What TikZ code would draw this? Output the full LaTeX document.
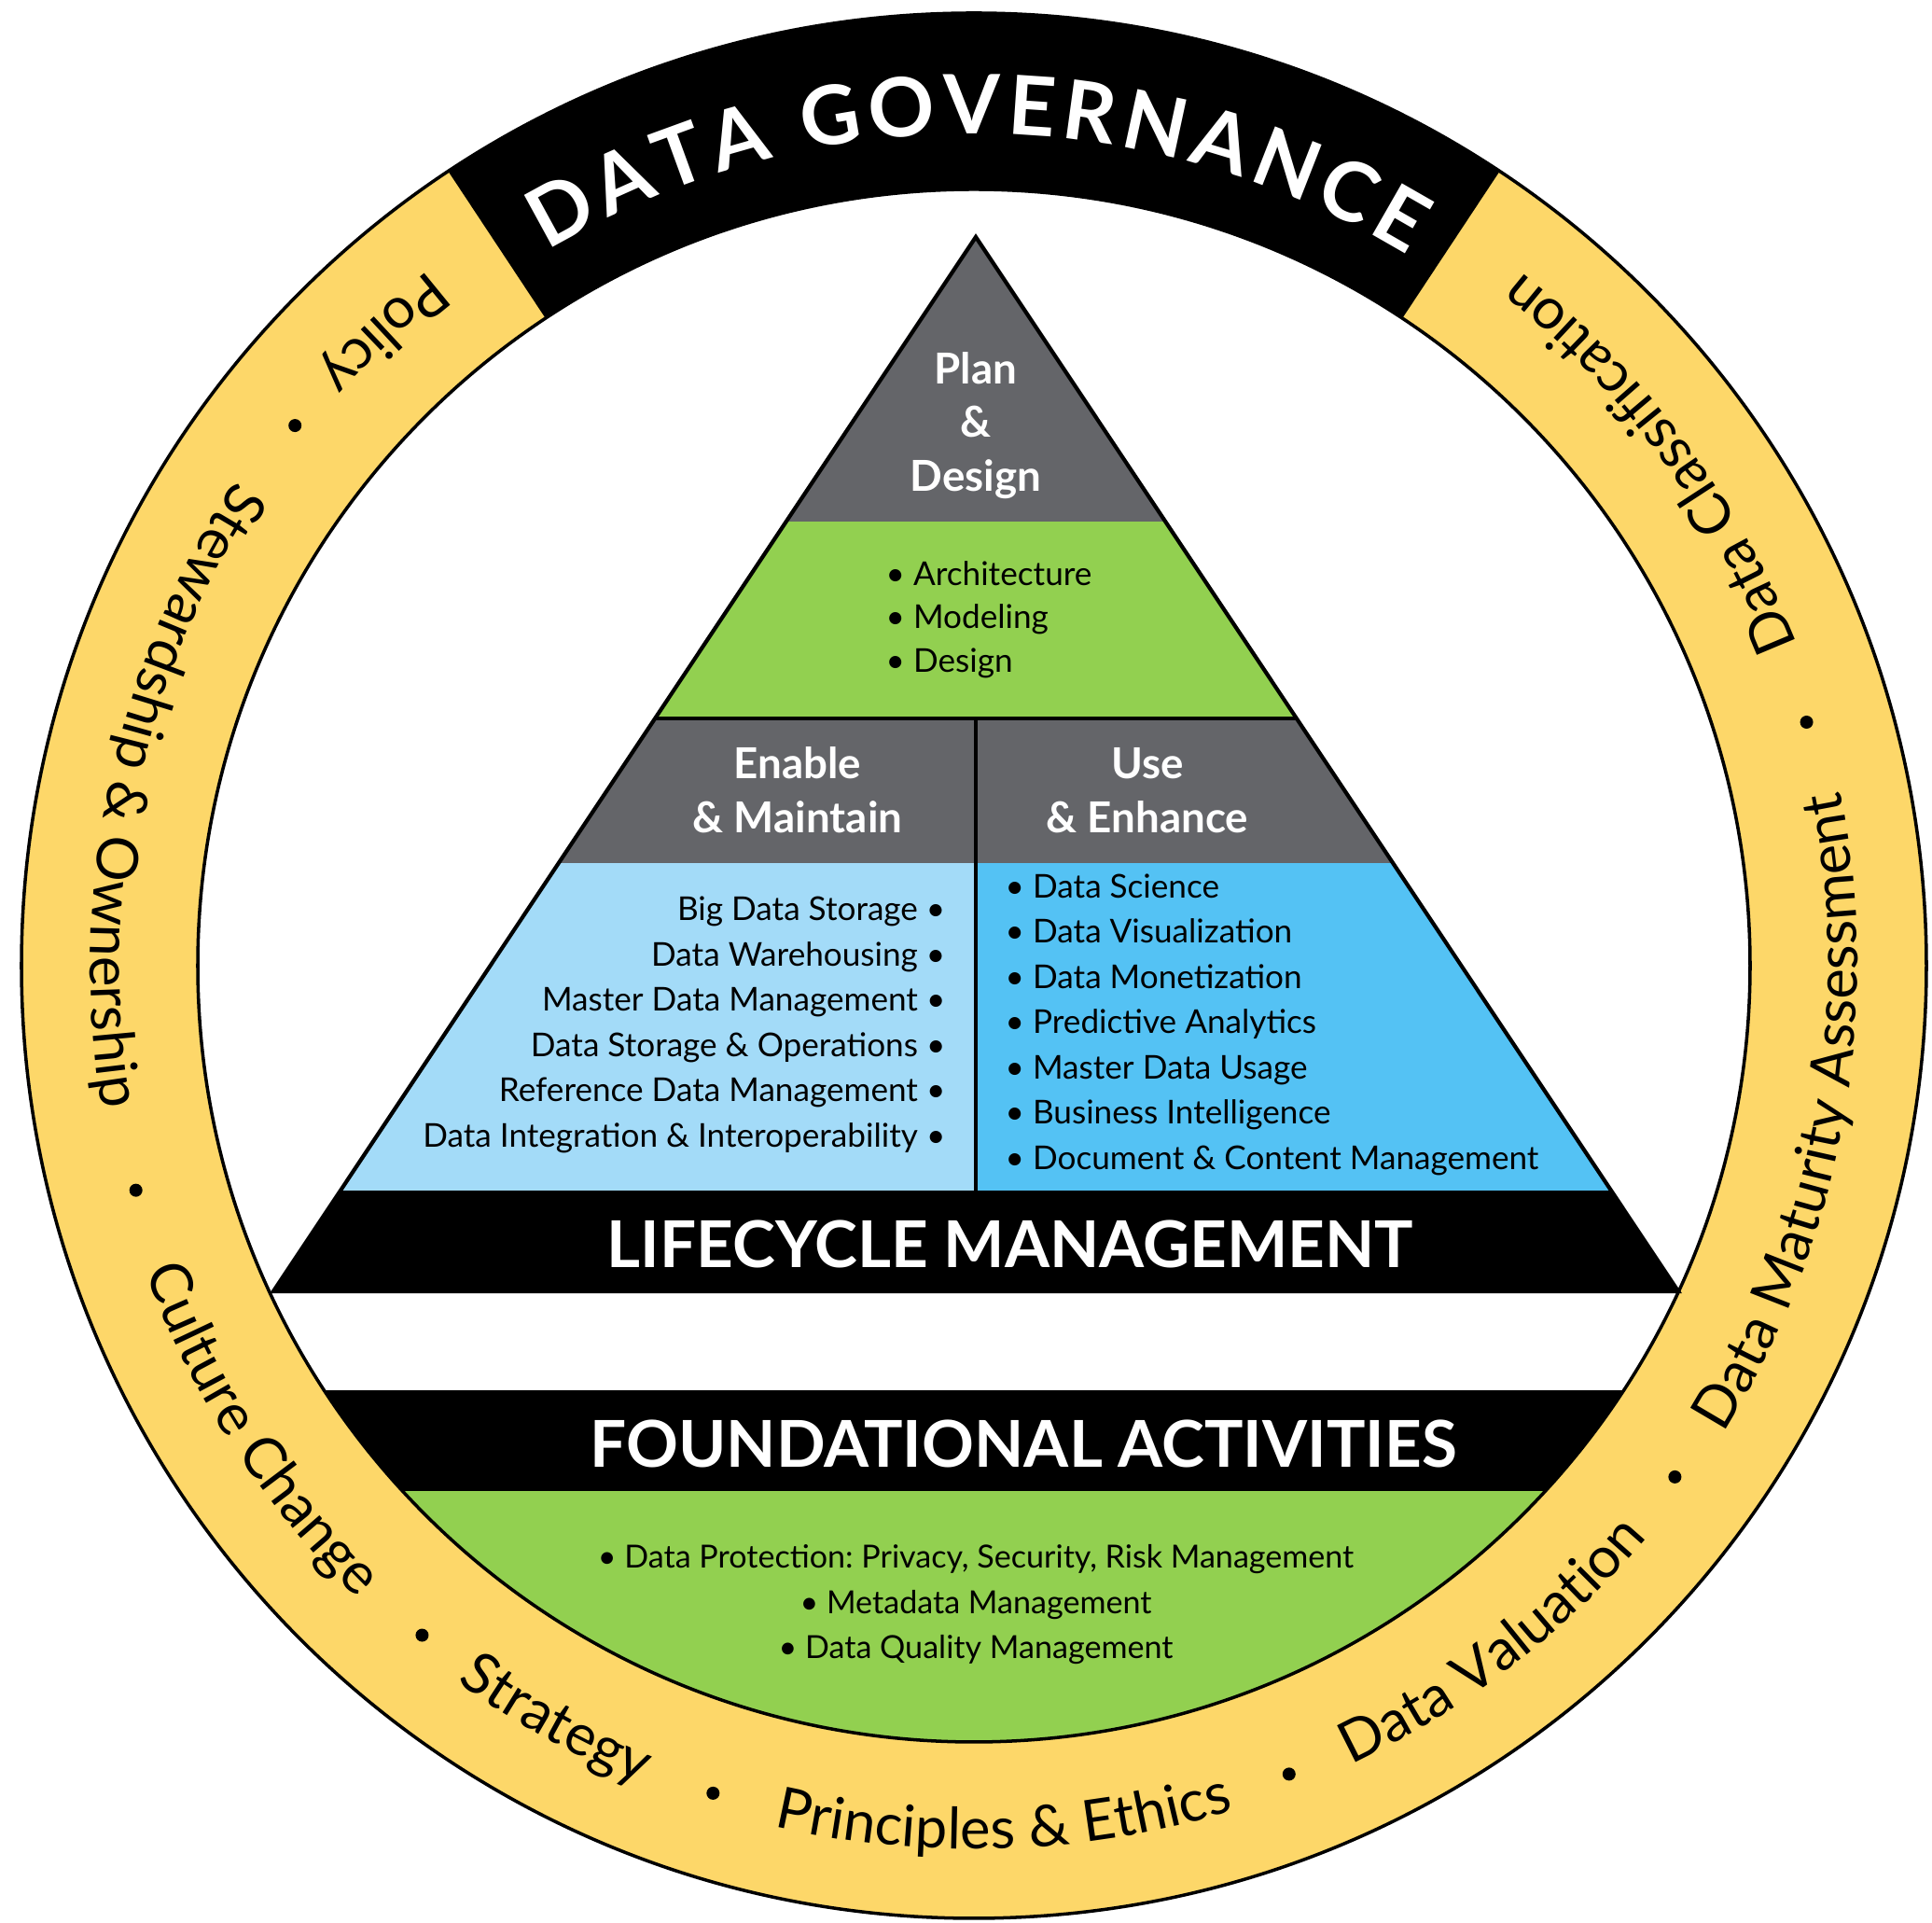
\documentclass[tikz,border=0pt]{standalone}
\usepackage{fontspec}
\setmainfont{Lato}
\usetikzlibrary{decorations.text,calc}
\definecolor{ringyellow}{RGB}{253,215,105}
\definecolor{pgray}{RGB}{100,101,105}
\definecolor{pgreen}{RGB}{146,208,80}
\definecolor{lblue}{RGB}{163,219,248}
\definecolor{dblue}{RGB}{84,194,244}
\newcommand\ringfont{\fontsize{17.5}{20}\selectfont}
\newcommand\govfont{\bfseries\fontsize{25}{29}\selectfont}
\tikzset{
  head/.style={text=white, font=\bfseries\fontsize{13}{16.4}\selectfont, align=center, inner sep=0pt},
  item/.style={font=\frenchspacing\fontsize{10}{13.8}\selectfont, inner sep=0pt},
  band/.style={text=white, font=\bfseries\fontsize{19.7}{22}\selectfont, inner sep=0pt},
  ringtext/.style={decorate, decoration={text along path, text align=center, text={|\ringfont|#1}}},
  ringdot/.style={fill=black},
  outline/.style={line width=1.2pt, line join=miter}
}
\begin{document}
\begin{tikzpicture}
\useasboundingbox (0,0) rectangle (20.71,20.61);
\fill[white] (0,0) rectangle (20.71,20.61);
\coordinate (C) at (10.44,10.26);
% ring
\fill[ringyellow, even odd rule] (C) circle[radius=10.21] (C) circle[radius=8.32];
\fill[black] ($(C)+(56.5:10.21)$) arc[start angle=56.5, end angle=123.5, radius=10.21] -- ($(C)+(123.5:8.32)$) arc[start angle=123.5, end angle=56.5, radius=8.32] -- cycle;
% foundational segment
\begin{scope}
  \clip (C) circle[radius=8.32];
  \fill[pgreen] (0,0) rectangle (20.71,4.63);
  \fill[black] (0,4.63) rectangle (20.71,5.71);
\end{scope}
\draw[line width=1pt] (C) circle[radius=10.21];
\draw[line width=1pt] (C) circle[radius=8.32];
% pyramid
\coordinate (apex) at (10.46,18.07);
\coordinate (bl) at (2.93,6.77);
\coordinate (br) at (17.99,6.77);
\begin{scope}
  \clip (apex) -- (bl) -- (br) -- cycle;
  \fill[pgray] (0,15.02) rectangle (20.71,18.2);
  \fill[pgreen] (0,12.91) rectangle (20.71,15.02);
  \fill[pgray] (0,11.36) rectangle (20.71,12.91);
  \fill[lblue] (0,7.85) rectangle (10.46,11.36);
  \fill[dblue] (10.46,7.85) rectangle (20.71,11.36);
  \fill[black] (0,6.7) rectangle (20.71,7.85);
  \draw[line width=1.1pt] (0,12.91) -- (20.71,12.91);
\end{scope}
\coordinate (divtop) at (10.46,12.91);
\coordinate (divbot) at (10.46,7.85);
\draw[line width=1.1pt] (divtop) -- (divbot);
\draw[outline] (apex) -- (bl) -- (br) -- cycle;
% pyramid texts
\node[head] (plan) at (10.46,16.05) {Plan\\\&\\Design};
\node[item, align=left, anchor=west, font=\fontsize{10}{13.2}\selectfont] (pdlist) at (9.49,13.97) {\textbullet\ Architecture\\\textbullet\ Modeling\\\textbullet\ Design};
\node[head] (enable) at (8.55,12.14) {Enable\\\& Maintain};
\node[head] (use) at (12.30,12.14) {Use\\\& Enhance};
\node[item, align=right, anchor=east] (emlist) at (10.14,9.625) {Big Data Storage \textbullet\\Data Warehousing \textbullet\\Master Data Management \textbullet\\Data Storage \& Operations \textbullet\\Reference Data Management \textbullet\\Data Integration \& Interoperability \textbullet};
\node[item, align=left, anchor=west] (uelist) at (10.77,9.63) {\textbullet\ Data Science\\\textbullet\ Data Visualization\\\textbullet\ Data Monetization\\\textbullet\ Predictive Analytics\\\textbullet\ Master Data Usage\\\textbullet\ Business Intelligence\\\textbullet\ Document \& Content Management};
\node[band] (lcm) at (10.83,7.28) {LIFECYCLE MANAGEMENT};
\node[band] (fa) at (10.97,5.14) {FOUNDATIONAL ACTIVITIES};
\node[item, align=center, font=\frenchspacing\fontsize{9.7}{13.8}\selectfont] (falist) at (10.46,3.41) {\textbullet\ Data Protection: Privacy, Security, Risk Management\\\textbullet\ Metadata Management\\\textbullet\ Data Quality Management};
% ring texts
\path[decorate, decoration={text along path, text align={fit to path}, text color=white, text={|\govfont|DATA GOVERNANCE}}] ($(C)+(120.8:8.92)$) arc[start angle=120.8, end angle=58.6, radius=8.92];
\path[ringtext={Policy}] ($(C)+(93:9.47)$) arc[start angle=93, end angle=173, radius=9.47];
\path[ringtext={Stewardship {\&} Ownership}] ($(C)+(128:9.47)$) arc[start angle=128, end angle=208, radius=9.47];
\path[ringtext={Culture Change}] ($(C)+(173:9.47)$) arc[start angle=173, end angle=253, radius=9.47];
\path[ringtext={Strategy}] ($(C)+(201:9.47)$) arc[start angle=201, end angle=281, radius=9.47];
\path[ringtext={Principles {\&} Ethics}] ($(C)+(232:9.47)$) arc[start angle=232, end angle=312, radius=9.47];
\path[ringtext={Data Valuation}] ($(C)+(267.5:9.47)$) arc[start angle=267.5, end angle=347.5, radius=9.47];
\path[ringtext={Data Maturity Assessment}] ($(C)+(309.7:9.47)$) arc[start angle=309.7, end angle=389.7, radius=9.47];
\path[ringtext={Data Classification}] ($(C)+(-3.5:9.47)$) arc[start angle=-3.5, end angle=76.5, radius=9.47];
\foreach \a in {141.5,195,230.5,252.5,291.3,323.9,16.3}
  \fill[ringdot] ($(C)+(\a:9.30)$) circle[radius=0.07];
\end{tikzpicture}
\end{document}
